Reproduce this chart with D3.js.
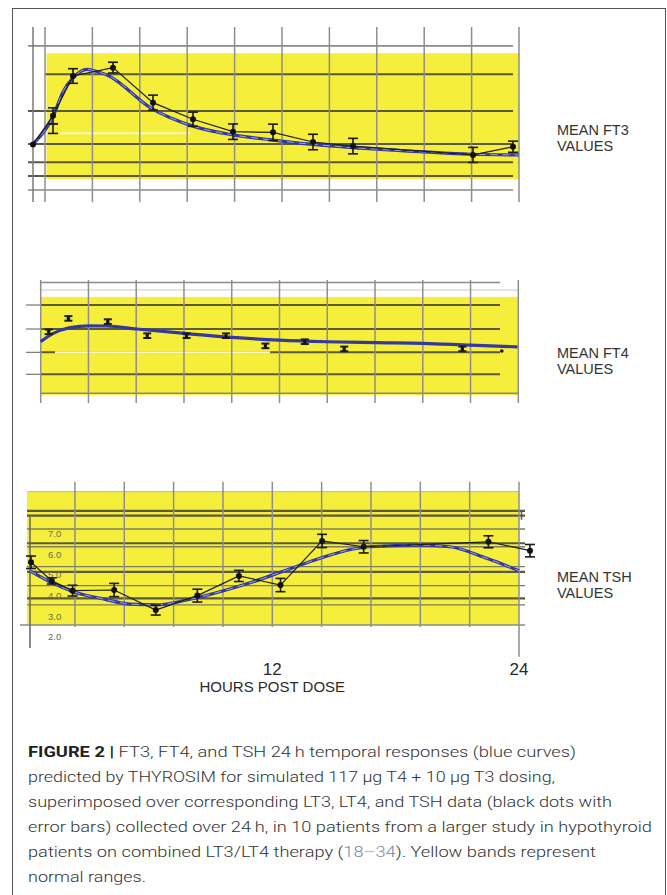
<!DOCTYPE html>
<html><head><meta charset="utf-8">
<script src="https://cdn.jsdelivr.net/npm/d3@7"></script>
<style>body{margin:0;background:#fff}svg{display:block}</style>
</head><body>
<svg id="c" width="667" height="895"></svg>
<script>
// ---------------- DATA ----------------
// FT3 panel (observed means, error, model curve)
const hoursFT3 = [0,1,2,4,6,8,10,12,14,16,22,24];
const ft3Mean  = [2.68,4.01,5.86,6.25,4.62,3.85,3.27,3.24,2.79,2.60,2.19,2.57];
const ft3Err   = [0,0.37,0.34,0.25,0.35,0.33,0.36,0.38,0.36,0.36,0.35,0.26];
const ft3ExtraHour = [1];
const ft3ExtraMean = [3.41];
const ft3ExtraErr  = [0.22];
const modelHoursFT3 = [0,1,1.5,2,2.7,3.1,3.7,5.9,8,10,12,14,16,19.35,21.9,24.3];
const modelFT3      = [2.70,3.97,5.12,5.77,6.17,6.09,5.91,4.37,3.53,3.12,2.88,2.68,2.53,2.34,2.22,2.19];
const ft3Band  = [1.06,6.92];
const ft3Lines = [5.94,4.23,2.70,1.85,1.21];
const ft3Frame = [7.26,0.56];

// FT4 panel
const hoursFT4 = [1,2,4,6,8,10,12,14,16,22,24];
const ft4Mean  = [2.84,3.42,3.28,2.67,2.67,2.67,2.23,2.41,2.10,2.10,2.01];
const ft4Err   = [0.1,0.1,0.1,0.1,0.1,0.1,0.1,0.1,0.1,0.1,0];
const modelHoursFT4 = [0.59,1.23,2.08,3.05,3.94,5.47,7.9,10.3,12.7,15.1,17.6,20.0,22.4,24.8];
const modelFT4      = [2.41,2.77,3.02,3.10,3.09,2.96,2.77,2.60,2.48,2.41,2.37,2.34,2.26,2.19];
const ft4Band  = [0.1,4.35];
const ft4Lines = [4.0,2.96,1.95,1.0];
const ft4Frame = [4.97,4.65,0.18];

// TSH panel
const hoursTSH = [0,1,2,4,6,8,10,12,14,16,22,24];
const tshMean  = [5.60,4.70,4.23,4.26,3.29,3.99,4.94,4.50,6.63,6.35,6.59,6.16];
const tshErr   = [0.3,0.15,0.26,0.32,0.24,0.31,0.27,0.32,0.32,0.30,0.29,0.30];
const modelHoursTSH = [-0.05,1.07,2.03,3.48,4.76,6.05,7.49,9.09,10.69,12.3,13.98,15.5,16.3,18.71,20.15,21.92,23.47];
const modelTSH      = [5.19,4.58,4.18,3.83,3.58,3.54,3.78,4.18,4.66,5.23,5.82,6.24,6.35,6.43,6.35,5.79,5.19];
const tshBand   = [2.57,9.01];
const tshHeavy  = [8.08,7.85,6.52,5.14,3.86];
const tshLight  = [7.21,6.35,5.39,4.47,3.54];
const tshAxisV  = 2.57;
const tshTicks  = [2,3,4,5,6,7];
const hourTicks = [12,24];

const panelLabels = [["MEAN FT3","VALUES"],["MEAN FT4","VALUES"],["MEAN TSH","VALUES"]];
const captionLines = [
  [{t:"FIGURE 2 | ",b:1},{t:"FT3, FT4, and TSH 24\u2009h temporal responses (blue curves)"}],
  [{t:"predicted by THYROSIM for simulated 117 \u03bcg T4 + 10 \u03bcg T3 dosing,"}],
  [{t:"superimposed over corresponding LT3, LT4, and TSH data (black dots with"}],
  [{t:"error bars) collected over 24\u2009h, in 10 patients from a larger study in hypothyroid"}],
  [{t:"patients on combined LT3/LT4 therapy ("},{t:"18\u201334",c:1},{t:"). Yellow bands represent"}],
  [{t:"normal ranges."}]
];

// ---------------- DRAW ----------------
const svg = d3.select("#c");
const YEL = "#f5ef3c", DARK = "#5a5a42", GRID = "#8e8e8e", BLUE = "#3438a0", LBLUE = "#9aa4ea";
const SANS = "Liberation Sans, Arial, sans-serif";

svg.append("rect").attr("x",12.5).attr("y",8.5).attr("width",653).attr("height",900)
  .attr("fill","none").attr("stroke","#555").attr("stroke-width",1);

function hline(g, y, x0, x1, color, w){
  g.append("line").attr("x1",x0).attr("x2",x1).attr("y1",y).attr("y2",y)
   .attr("stroke",color).attr("stroke-width",w);
}
function vline(g, x, y0, y1, color, w){
  g.append("line").attr("x1",x).attr("x2",x).attr("y1",y0).attr("y2",y1)
   .attr("stroke",color).attr("stroke-width",w);
}
function modelCurve(g, x, y, hrs, vals, dashed){
  const pts = hrs.map((h,i)=>[x(h),y(vals[i])]);
  const ln = d3.line().curve(d3.curveMonotoneX);
  g.append("path").attr("d",ln(pts)).attr("fill","none").attr("stroke",BLUE).attr("stroke-width",3.2);
  if(dashed) g.append("path").attr("d",ln(pts)).attr("fill","none").attr("stroke",LBLUE)
    .attr("stroke-width",1).attr("stroke-dasharray","7 5");
}
function errBars(g, x, y, hrs, means, errs, cap, sw){
  hrs.forEach((h,i)=>{
    if(!errs[i]) return;
    const cx=x(h), y0=y(means[i]-errs[i]), y1=y(means[i]+errs[i]);
    vline(g,cx,y0,y1,"#1a1a1a",sw);
    hline(g,y0,cx-cap/2,cx+cap/2,"#1a1a1a",sw);
    hline(g,y1,cx-cap/2,cx+cap/2,"#1a1a1a",sw);
  });
}
function dataLine(g,x,y,hrs,means){
  g.append("path").attr("d",d3.line()(hrs.map((h,i)=>[x(h),y(means[i])])))
   .attr("fill","none").attr("stroke","#1e1e14").attr("stroke-width",1.2);
}
function dots(g,x,y,hrs,means,r){
  g.selectAll(null).data(hrs).join("circle").attr("cx",d=>x(d)).attr("cy",(d,i)=>y(means[i]))
   .attr("r",r).attr("fill","#111");
}

// ---- FT3 ----
{
  const g = svg.append("g");
  const x = d3.scaleLinear().domain([0,24]).range([33,513]);
  const y = d3.scaleLinear().domain([0,8]).range([202,30]);
  const gx = d3.scaleLinear().domain([0,10]).range([45,519]);
  g.append("rect").attr("x",gx(0)+1.5).attr("width",gx(10)-gx(0)-1.5)
   .attr("y",y(ft3Band[1])).attr("height",y(ft3Band[0])-y(ft3Band[1])).attr("fill",YEL);
  ft3Frame.forEach(v=>hline(g,y(v),28,513,"#8a8a8a",1.6));
  ft3Lines.forEach((v,i)=>hline(g,y(v),i===0?45:28,513,DARK,2));
  hline(g,y(3.2),60,190,"#fbf9c8",2);
  d3.range(11).forEach(c=>vline(g,gx(c),27,202,GRID,1.5));
  vline(g,33,27,202,"#7a7a7a",1.5);
  modelCurve(g,x,y,modelHoursFT3,modelFT3,true);
  dataLine(g,x,y,hoursFT3,ft3Mean);
  errBars(g,x,y,hoursFT3,ft3Mean,ft3Err,10,1.6);
  errBars(g,x,y,ft3ExtraHour,ft3ExtraMean,ft3ExtraErr,10,1.6);
  dots(g,x,y,hoursFT3,ft3Mean,3);
}
// ---- FT4 ----
{
  const g = svg.append("g");
  const x = d3.scaleLinear().domain([0,24]).range([29,501.8]);
  const y = d3.scaleLinear().domain([0,5]).range([397.4,281.9]);
  const gx = d3.scaleLinear().domain([0,10]).range([40.7,518.3]);
  g.append("rect").attr("x",gx(0)).attr("width",gx(10)-gx(0))
   .attr("y",y(ft4Band[1])).attr("height",y(ft4Band[0])-y(ft4Band[1])).attr("fill",YEL);
  hline(g,y(ft4Frame[0]),40,500,"#8a8a8a",1.5);
  hline(g,y(ft4Frame[1]),40,518,"#c9c9c9",1);
  hline(g,y(ft4Frame[2]),40,518,"#8a8a8a",1.5);
  ft4Lines.forEach(v=>{hline(g,y(v),40,500,DARK,2); hline(g,y(v),26,40.7,"#777",1.2);});
  hline(g,y(1.95),55,270,"#fbf9d0",2.2);
  d3.range(11).forEach(c=>vline(g,gx(c),280,403,GRID,1.5));
  modelCurve(g,x,y,modelHoursFT4,modelFT4,false);
  errBars(g,x,y,hoursFT4,ft4Mean,ft4Err,8,2);
  dots(g,x,y,hoursFT4,ft4Mean,1.8);
}
// ---- TSH ----
{
  const g = svg.append("g");
  const x = d3.scaleLinear().domain([0,24]).range([31,530]);
  const y = d3.scaleLinear().domain([2,7]).range([636.8,533.3]);
  const gx = d3.scaleLinear().domain([0,10]).range([25.6,519]);
  const hx = d3.scaleLinear().domain([0,24]).range([25.6,519]);
  g.append("rect").attr("x",27).attr("width",gx(10)-27)
   .attr("y",y(tshBand[1])).attr("height",y(tshBand[0])-y(tshBand[1])).attr("fill",YEL);
  hline(g,y(tshBand[1]),27,519,"#b9b98a",1);
  tshHeavy.forEach(v=>hline(g,y(v),27,525,DARK,2.2));
  tshLight.forEach(v=>hline(g,y(v),27,525,"#7d7d5a",1.4));
  hline(g,y(tshAxisV),20,525,"#8a8a8a",1.5);
  vline(g,521.5,y(tshHeavy[0]),y(tshHeavy[1])+4,DARK,1.5);
  d3.range(1,11).forEach(c=>vline(g,gx(c),481.7,c===10?656.7:627,GRID,1.5));
  vline(g,30,516.7,648,"#6a6a6a",1.6);
  g.selectAll(null).data(tshTicks).join("text").attr("x",48).attr("y",d=>y(d)+3.5)
   .attr("font-family",SANS).attr("font-size",9.5).attr("fill","#6a6a5a")
   .text(d3.format(".1f"));
  modelCurve(g,x,y,modelHoursTSH,modelTSH,true);
  dataLine(g,x,y,hoursTSH,tshMean);
  errBars(g,x,y,hoursTSH,tshMean,tshErr,10,1.6);
  dots(g,x,y,hoursTSH,tshMean,3);
  g.selectAll(null).data(hourTicks).join("text").attr("x",d=>hx(d)).attr("y",675)
   .attr("text-anchor","middle").attr("font-family",SANS)
   .attr("font-size",17).attr("fill","#2a2a2a").text(d=>d);
  g.append("text").attr("x",hx(12)).attr("y",692).attr("text-anchor","middle")
   .attr("font-family",SANS).attr("font-size",15).attr("fill","#2a2a2a")
   .text("HOURS POST DOSE");
}
// ---- right labels ----
const labelY = [135,358,582];
panelLabels.forEach((lines,i)=>{
  lines.forEach((s,j)=>svg.append("text").attr("x",557).attr("y",labelY[i]+j*16)
    .attr("font-family",SANS).attr("font-size",14.5)
    .attr("fill","#333").text(s));
});
// ---- caption ----
{
  const lineEnds = [576,555,612,652,596,146];
  const g = svg.append("g");
  captionLines.forEach((parts,i)=>{
    const t = g.append("text").attr("x",28).attr("y",757+i*25)
      .attr("font-family","Roboto, Liberation Sans, Arial, sans-serif").attr("font-weight",300)
      .attr("font-size",15.5).attr("fill","#333");
    parts.forEach(p=>{
      const ts=t.append("tspan").text(p.t);
      if(p.b) ts.attr("font-weight","bold").attr("fill","#222");
      if(p.c) ts.attr("fill","#7088aa");
    });
    t.attr("textLength",lineEnds[i]-28).attr("lengthAdjust","spacingAndGlyphs");
  });
}
</script>
</body></html>
